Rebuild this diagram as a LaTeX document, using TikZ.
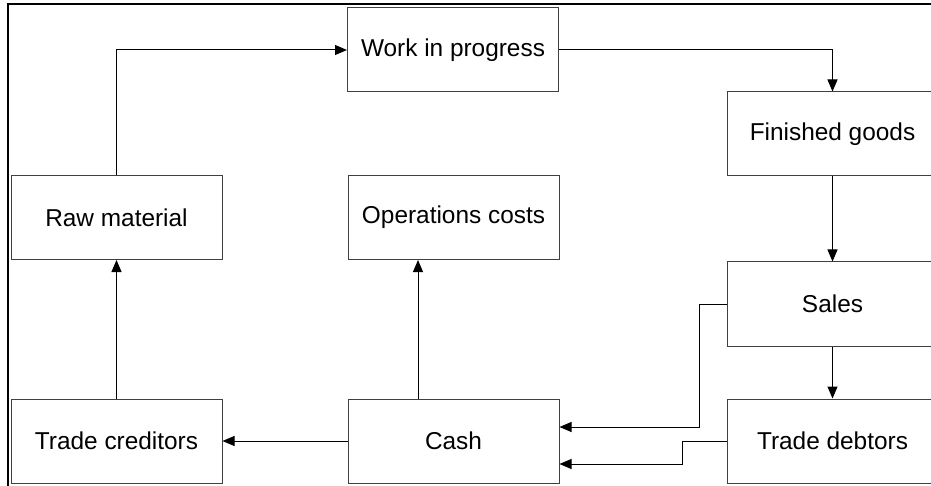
\documentclass[tikz,border=0pt]{standalone}
\usepackage{fontspec}
\setmainfont{Liberation Sans}
\usetikzlibrary{arrows.meta}
\begin{document}
\begin{tikzpicture}[x=0.5pt,y=-0.5pt,
    block/.style={draw=black!75, line width=0.5pt, minimum width=105.5pt, minimum height=42pt,
                  inner sep=0pt, font=\fontsize{12.2}{14}\selectfont},
    flow/.style={-{Triangle[length=6pt,width=5pt]}, line width=0.5pt}]
    \useasboundingbox (0,0) rectangle (931,486);
    \clip (0,0) rectangle (931,486);

    % frame
    \draw[line width=1pt] (7.5,486) -- (7.5,4.5) -- (931,4.5);

    % blocks
    \node[block] (wip) at (453,50) {Work in progress};
    \node[block] (fin) at (832.5,134) {Finished goods};
    \node[block] (raw) at (116.5,217.5) {Raw material};
    \node[block] (ops) at (453.5,217.5) {Operations costs};
    \node[block] (sales) at (832.5,304) {Sales};
    \node[block] (cred) at (116.5,441) {Trade creditors};
    \node[block] (cash) at (453.5,441) {Cash};
    \node[block] (debt) at (832.5,441) {Trade debtors};

    % production
    \draw[flow] (raw.north) |- (wip.west);
    \draw[flow] (wip.east) -| (fin.north);
    \draw[flow] (fin) -- (sales);
    \draw[flow] (sales) -- (debt);

    % cash in
    \draw[flow] (sales.west) -- ++(-27,0) |- ([yshift=7pt]cash.east);
    \draw[flow] (debt.west) -- ++(-44,0) |- ([yshift=-11.5pt]cash.east);

    % cash out
    \draw[flow] ([xshift=-17.75pt]cash.north) -- ([xshift=-17.75pt]ops.south);
    \draw[flow] (cash) -- (cred);
    \draw[flow] (cred) -- (raw);
\end{tikzpicture}
\end{document}
